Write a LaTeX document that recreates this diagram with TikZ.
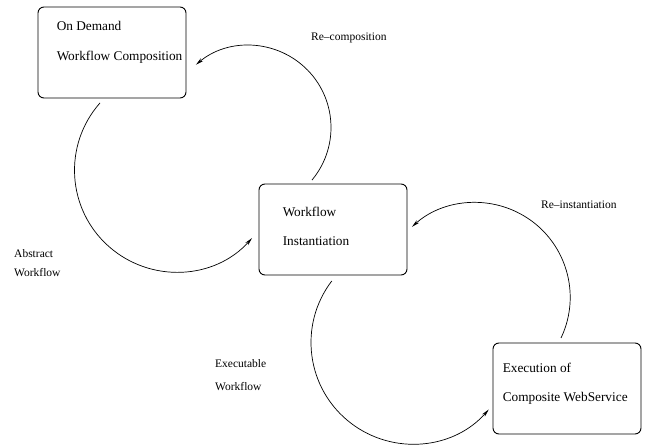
\documentclass[tikz,border=0pt]{standalone}
\usepackage{fontspec}
\setmainfont{Liberation Serif}
\usetikzlibrary{shapes,arrows.meta}

\begin{document}
\begin{tikzpicture}[x=1pt,y=1pt,
    block/.style ={rectangle, rounded corners=6pt, draw=black, line width=0.9pt, fill=white,
      minimum width=148pt, minimum height=91pt},
    block_text/.style ={inner sep=0pt, align=left, font=\fontsize{13.3}{29.3}\selectfont},
    flow_label/.style ={inner sep=0pt, align=left, font=\fontsize{11.5}{19}\selectfont},
    line/.style ={draw, line width=0.7pt, -{Stealth[length=8pt,width=3.6pt]}}]
    \useasboundingbox (0,0) rectangle (645,445);
    % the three stages
    \node [block] (composition) at (112,392.5) {};
    \node [block] (instantiation) at (333,215.5) {};
    \node [block] (execution) at (567,56.5) {};
    \node [block_text, anchor=north west] (composition_text)
      at ([shift={(19,-15)}]composition.north west) {On Demand\\Workflow Composition};
    \node [block_text, anchor=north west] (instantiation_text)
      at ([shift={(24,-23)}]instantiation.north west) {Workflow\\Instantiation};
    \node [block_text, anchor=north west] (execution_text)
      at ([shift={(10,-20)}]execution.north west) {Execution of\\Composite WebService};
    % labels of the flows
    \node [flow_label, anchor=north west] (abstract) at (14,196) {Abstract\\Workflow};
    \node [flow_label, anchor=north west, font=\fontsize{11.5}{23.5}\selectfont] (executable)
      at (215,86) {Executable\\Workflow};
    \node [flow_label, anchor=base west] (recomposition) at (311,404) {Re--composition};
    \node [flow_label, anchor=base west] (reinstantiation) at (541,236) {Re--instantiation};
    % centres of the arcs
    \coordinate (c_abstract) at (176.2,274.7);
    \coordinate (c_recomposition) at (248.9,317.5);
    \coordinate (c_reinstantiation) at (475.4,147.7);
    \coordinate (c_executable) at (412.5,102.5);
    % connecting the stages with arcs
    \begin{scope}[every path/.style=line]
      \path ([shift={(138.5:101.7)}]c_abstract) arc[start angle=138.5, end angle=318.2, radius=101.7];
      \path ([shift={(-39.8:82.1)}]c_recomposition) arc[start angle=-39.8, end angle=130.2, radius=82.1];
      \path ([shift={(-25.4:94.8)}]c_reinstantiation) arc[start angle=-25.4, end angle=132, radius=94.8];
      \path ([shift={(142.7:101.5)}]c_executable) arc[start angle=142.7, end angle=318.7, radius=101.5];
    \end{scope}
\end{tikzpicture}
\end{document}
